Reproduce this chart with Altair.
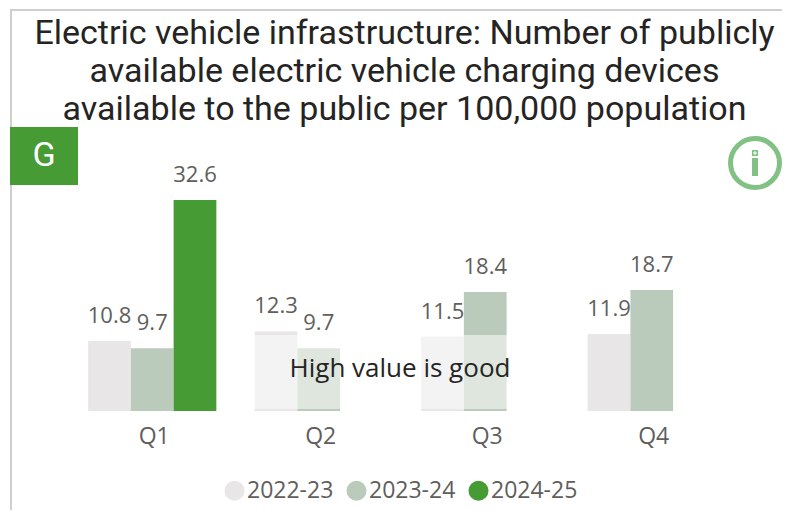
import altair as alt
import pandas as pd

quarters = ["Q1", "Q1", "Q1", "Q2", "Q2", "Q3", "Q3", "Q4", "Q4"]
years = ["2022-23", "2023-24", "2024-25", "2022-23", "2023-24", "2022-23", "2023-24", "2022-23", "2023-24"]
values = [10.8, 9.7, 32.6, 12.3, 9.7, 11.5, 18.4, 11.9, 18.7]
year_domain = ["2022-23", "2023-24", "2024-25"]
year_colors = ["#E9E6E8", "#BBCBBB", "#469B35"]
quarter_domain = ["Q1", "Q2", "Q3", "Q4"]
title_lines = [
    "Electric vehicle infrastructure: Number of publicly",
    "available electric vehicle charging devices",
    "available to the public per 100,000 population",
]
title_baselines = [44, 82, 120]

df = pd.DataFrame({"quarter": quarters, "year": years, "value": values})
one = pd.DataFrame({"a": [0]})

# plot area origin on the page
OX, OY = 69, 130
PW, PH = 666, 281
LABEL = "Open Sans"
HEAD = "Roboto"
GREY = "#605E5C"

def px(v):
    return alt.value(v - OX)

def py(v):
    return alt.value(v - OY)

x = alt.X("quarter:N", scale=alt.Scale(domain=quarter_domain, paddingInner=0.23, paddingOuter=0.115),
          axis=alt.Axis(title=None, ticks=False, domain=False, grid=False, labelAngle=0, labelFontSize=23,
                        labelFont=LABEL, labelColor=GREY, labelPadding=14, labelOffset=2))
xo = alt.XOffset("year:N", scale=alt.Scale(domain=year_domain, paddingInner=0, paddingOuter=0))
y = alt.Y("value:Q", scale=alt.Scale(domain=[0, 43.43], nice=False, zero=True), axis=None)

bars = alt.Chart(df).mark_bar().encode(
    x=x, xOffset=xo, y=y,
    color=alt.Color("year:N", scale=alt.Scale(domain=year_domain, range=year_colors),
                    legend=alt.Legend(title=None, orient="none", direction="horizontal",
                                      legendX=223 - OX, legendY=479 - OY,
                                      symbolType="circle", symbolSize=400, symbolStrokeWidth=0,
                                      labelFontSize=23, labelFont=LABEL, labelColor=GREY,
                                      labelOffset=1, columnPadding=11)),
)
labels = alt.Chart(df).mark_text(baseline="alphabetic", dy=-18, fontSize=22, font=LABEL, color=GREY).encode(
    x=x, xOffset=xo, y=y, text=alt.Text("value:Q", format=".1f"),
)
overlay = alt.Chart(one).mark_rect(color="#FFFFFF", opacity=0.52).encode(
    x=px(250), x2=px(530), y=py(335), y2=py(409),
)
note = alt.Chart(one).mark_text(text="High value is good", fontSize=26, font=LABEL, color="#252423",
                                baseline="middle", align="center").encode(
    x=px(400), y=py(369),
)
left_line = alt.Chart(one).mark_rule(color="#CFCFCF", strokeWidth=2).encode(
    x=px(11), y=py(10), y2=py(518),
)
top_line = alt.Chart(one).mark_rule(color="#CFCFCF", strokeWidth=2).encode(
    x=px(10), x2=px(790), y=py(10),
)
badge = alt.Chart(one).mark_rect(color="#469B35").encode(
    x=px(10), x2=px(78), y=py(127), y2=py(185),
)
badge_text = alt.Chart(one).mark_text(text="G", fontSize=34, font=HEAD, color="#FFFFFF",
                                      baseline="middle", align="center").encode(
    x=px(44), y=py(156),
)
RX = 755
ring = alt.Chart(one).mark_point(shape="circle", filled=False, size=2400, strokeWidth=5, color="#82C184", opacity=1).encode(
    x=px(RX), y=py(163),
)
i_stem = alt.Chart(one).mark_rect(color="#82C184").encode(
    x=px(RX - 3), x2=px(RX + 3), y=py(158), y2=py(176),
)
i_dot = alt.Chart(one).mark_rect(color="#82C184").encode(
    x=px(RX - 3), x2=px(RX + 3), y=py(150), y2=py(156),
)
i_plus_h = alt.Chart(one).mark_rect(color="#FFFFFF").encode(
    x=px(RX - 2), x2=px(RX + 2), y=py(152.5), y2=py(153.5),
)
i_plus_v = alt.Chart(one).mark_rect(color="#FFFFFF").encode(
    x=px(RX - 0.5), x2=px(RX + 0.5), y=py(151), y2=py(155),
)
title_marks = [
    alt.Chart(one).mark_text(text=line, fontSize=34, font=HEAD, color="#252423",
                             baseline="alphabetic", align="center").encode(
        x=px(404.5), y=py(base),
    )
    for line, base in zip(title_lines, title_baselines)
]

chart = (
    alt.layer(bars, labels, overlay, note, left_line, top_line, badge, badge_text,
              ring, i_stem, i_dot, i_plus_h, i_plus_v, *title_marks)
    .resolve_scale(color="shared")
    .properties(
        width=PW, height=PH,
        autosize=alt.AutoSizeParams(type="none"),
        padding={"left": OX - 8, "top": OY - 8, "right": 774 - (OX - 8) - PW, "bottom": 502 - (OY - 8) - PH},
    )
    .configure_view(stroke=None)
)

chart.save("out.html", embed_options={"renderer": "svg", "actions": False})
